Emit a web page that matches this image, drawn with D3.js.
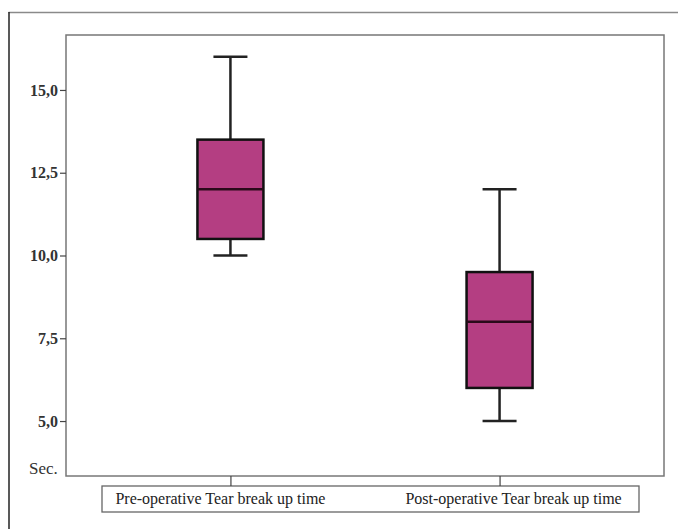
<!DOCTYPE html>
<html><head><meta charset="utf-8">
<script src="https://cdn.jsdelivr.net/npm/d3@7/dist/d3.min.js"></script>
<style>body{margin:0;background:#fff}svg{display:block}text{font-family:"Liberation Serif","Times New Roman","DejaVu Serif",serif}</style>
</head><body>
<svg id="c" width="678" height="529"></svg>
<script>
const categories = ["Pre-operative Tear break up time", "Post-operative Tear break up time"];
const whiskerLow = [10, 5];
const q1 = [10.5, 6];
const median = [12, 8];
const q3 = [13.5, 9.5];
const whiskerHigh = [16, 12];
const yTicks = [5, 7.5, 10, 12.5, 15];
const yTitle = "Sec.";

const svg = d3.select("#c");
const L = 66, R = 664, T = 35, B = 476;
const fmt = v => d3.format(".1f")(v).replace(".", ",");

// outer frame
svg.append("line").attr("x1", 8.5).attr("x2", 678).attr("y1", 12.5).attr("y2", 12.5).attr("stroke", "#8a8a8a").attr("stroke-width", 1.5);
svg.append("line").attr("x1", 9).attr("x2", 9).attr("y1", 12).attr("y2", 529).attr("stroke", "#222").attr("stroke-width", 1.5);

const y = d3.scaleLinear().domain([3.34, 16.66]).range([B, T]);
const x = d3.scalePoint().domain(categories).range([L, R]).padding(0.611);

// plot frame
svg.append("rect").attr("x", L).attr("y", T).attr("width", R - L).attr("height", B - T)
  .attr("fill", "none").attr("stroke", "#777").attr("stroke-width", 1.5);

// y axis
const yAxis = svg.append("g").attr("transform", `translate(${L},0)`)
  .call(d3.axisLeft(y).tickValues(yTicks).tickFormat(fmt).tickSize(6).tickPadding(2));
yAxis.select(".domain").remove();
yAxis.selectAll(".tick line").attr("stroke", "#444").attr("stroke-width", 1.2);
yAxis.selectAll(".tick text").attr("font-family", null).attr("font-size", 16)
  .attr("font-weight", "bold").attr("fill", "#333");

svg.append("text").attr("x", 29).attr("y", 474)
  .attr("font-size", 17).attr("fill", "#333").text(yTitle);

// category axis box
const boxX0 = 102, boxX1 = 639, boxY0 = 486, boxY1 = 512;
svg.append("rect").attr("x", boxX0).attr("y", boxY0).attr("width", boxX1 - boxX0).attr("height", boxY1 - boxY0)
  .attr("fill", "none").attr("stroke", "#666").attr("stroke-width", 1.3);
const xAxis = svg.append("g").attr("transform", `translate(0,${B})`)
  .call(d3.axisBottom(x).tickSize(boxY0 - B).tickFormat(""));
xAxis.select(".domain").remove();
xAxis.selectAll(".tick line").attr("stroke", "#444").attr("stroke-width", 1.2);
const labelOffsets = [-10, 14];
categories.forEach((c, i) => {
  svg.append("text").attr("x", x(c) + labelOffsets[i]).attr("y", 504)
    .attr("text-anchor", "middle")
    .attr("font-size", 16).attr("fill", "#222").text(c);
});

// boxes
const boxW = 66, capW = 34;
categories.forEach((c, i) => {
  const cx = x(c);
  const g = svg.append("g");
  g.append("line").attr("x1", cx).attr("x2", cx).attr("y1", y(whiskerHigh[i])).attr("y2", y(q3[i]))
    .attr("stroke", "#222").attr("stroke-width", 2.5);
  g.append("line").attr("x1", cx).attr("x2", cx).attr("y1", y(q1[i])).attr("y2", y(whiskerLow[i]))
    .attr("stroke", "#222").attr("stroke-width", 2.5);
  [whiskerHigh[i], whiskerLow[i]].forEach(v => {
    g.append("line").attr("x1", cx - capW / 2).attr("x2", cx + capW / 2).attr("y1", y(v)).attr("y2", y(v))
      .attr("stroke", "#222").attr("stroke-width", 2.5);
  });
  g.append("rect").attr("x", cx - boxW / 2).attr("y", y(q3[i])).attr("width", boxW)
    .attr("height", y(q1[i]) - y(q3[i])).attr("fill", "#b43e82").attr("stroke", "#111").attr("stroke-width", 2.5);
  g.append("line").attr("x1", cx - boxW / 2).attr("x2", cx + boxW / 2).attr("y1", y(median[i])).attr("y2", y(median[i]))
    .attr("stroke", "#2a0a1a").attr("stroke-width", 2.5);
});
</script>
</body></html>
